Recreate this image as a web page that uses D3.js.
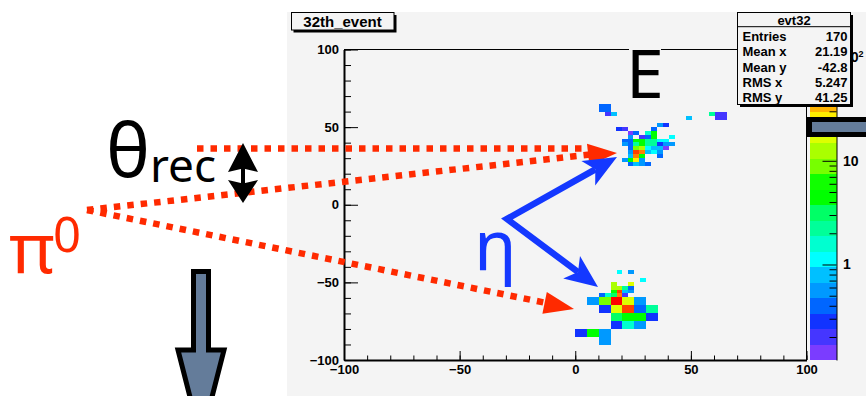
<!DOCTYPE html>
<html><head><meta charset="utf-8">
<script src="https://cdn.jsdelivr.net/npm/d3@7"></script>
<style>
html,body{margin:0;padding:0;background:#fff;overflow:hidden}
svg{display:block}
</style></head><body>
<svg id="c" width="866" height="396"></svg>
<script>
// Event 32: calorimeter energy deposits.
// Fine (crystal) cells: [x0, y0, content], lower-left corner in detector units.
const fineSize = 2.55;
const fineCells = [
  [35.35, 50.30, 0.56], [37.90, 50.30, 0.28],
  [17.50, 47.75, 0.28], [20.05, 47.75, 0.20], [32.80, 47.75, 0.40],
  [22.60, 45.20, 0.14], [25.15, 45.20, 0.40], [30.25, 45.20, 1.6], [32.80, 45.20, 4.5],
  [22.60, 42.65, 0.56], [27.70, 42.65, 0.20], [30.25, 42.65, 0.40], [32.80, 42.65, 4.5], [40.45, 42.65, 1.12],
  [20.05, 40.10, 0.40], [22.60, 40.10, 0.40], [25.15, 40.10, 4.5], [27.70, 40.10, 4.5], [30.25, 40.10, 2.2], [32.80, 40.10, 2.2], [35.35, 40.10, 1.12], [37.90, 40.10, 1.12],
  [20.05, 37.55, 0.56], [22.60, 37.55, 0.40], [25.15, 37.55, 2.2], [27.70, 37.55, 4.5], [30.25, 37.55, 2.2], [32.80, 37.55, 2.2], [35.35, 37.55, 0.28], [37.90, 37.55, 0.56], [40.45, 37.55, 0.56],
  [22.60, 35.00, 0.40], [25.15, 35.00, 8.9], [27.70, 35.00, 12.5], [30.25, 35.00, 1.12], [32.80, 35.00, 0.80], [35.35, 35.00, 0.80], [37.90, 35.00, 0.14],
  [22.60, 32.45, 0.56], [25.15, 32.45, 70], [27.70, 32.45, 50], [30.25, 32.45, 0.80], [32.80, 32.45, 1.12], [35.35, 32.45, 0.56],
  [22.60, 29.90, 0.80], [25.15, 29.90, 50], [27.70, 29.90, 4.5], [35.35, 29.90, 0.40],
  [20.05, 27.35, 0.56], [22.60, 27.35, 4.5], [25.15, 27.35, 25], [27.70, 27.35, 0.56],
  [22.60, 24.80, 0.40], [25.15, 24.80, 0.80], [27.70, 24.80, 0.56], [30.25, 24.80, 0.40],
  [12.75, 57.40, 0.20], [15.30, 57.40, 0.80], [47.80, 54.80, 0.80], [57.80, 57.40, 2.2],
  [17.85, -44.40, 1.12], [22.95, -44.40, 0.56],
  [28.05, -49.50, 1.12],
  [15.30, -52.05, 12.5], [22.95, -52.05, 17.7],
  [15.30, -54.60, 12.5], [17.85, -54.60, 12.5], [20.40, -54.60, 2.2], [22.95, -54.60, 0.40],
  [15.30, -57.15, 4.5], [17.85, -57.15, 70], [20.40, -57.15, 0.80], [22.95, -57.15, 0.56],
  [10.20, -59.70, 0.40], [12.75, -59.70, 1.6], [15.30, -59.70, 3.2], [17.85, -59.70, 50], [20.40, -59.70, 0.20]
];
// Coarse (outer) cells: [x0, y0, content]
const coarseSize = 5.1;
const coarseCells = [
  [10.20, 60.00, 0.40], [60.40, 54.80, 0.20],
  [5.10, -64.80, 0.56], [10.20, -64.80, 8.9], [15.30, -64.80, 99], [20.40, -64.80, 17.7], [25.50, -64.80, 0.56],
  [10.20, -69.90, 0.28], [15.30, -69.90, 17.7], [20.40, -69.90, 70], [25.50, -69.90, 0.40], [30.60, -69.90, 2.2],
  [15.30, -75.00, 3.2], [20.40, -75.00, 4.5], [25.50, -75.00, 4.5], [30.60, -75.00, 0.28],
  [15.30, -80.10, 0.28], [20.40, -80.10, 1.6], [25.50, -80.10, 0.56],
  [0.00, -85.20, 0.28], [5.10, -85.20, 4.5], [10.20, -85.20, 0.56],
  [10.20, -90.30, 0.56]
];
const axisRange = [-100, 100];
const axisTicks = [-100, -50, 0, 50, 100];
const zRange = [0.12, 117];
const zTicks = [1, 10, 100];
const zMinorTicks = [0.2,0.3,0.4,0.5,0.6,0.7,0.8,0.9,2,3,4,5,6,7,8,9,20,30,40,50,60,70,80,90];
const palette = ["#7b3cff","#4536ff","#1133ff","#0066ff","#0099ff","#00c0ff","#00ffff","#00ffd0",
  "#00ff99","#00ff66","#00ff00","#11ff00","#77ff00","#aaff00","#ddff00","#ffee00",
  "#ffb400","#ff8000","#ff4000","#ff0000"];
const histTitle = "32th_event";
const statName = "evt32";
const statLabels = ["Entries", "Mean x", "Mean y", "RMS x", "RMS y"];
const statValues = ["170", "21.19", "-42.8", "5.247", "41.25"];

const svg = d3.select("#c");
const padBg = "#f4f4f4";
const axisFont = "'Liberation Sans', Arial, Helvetica, sans-serif";
const slideFont = "'Noto Sans', 'DejaVu Sans', sans-serif";

// pad
svg.append("rect").attr("x", 287).attr("y", 12).attr("width", 579).attr("height", 384).attr("fill", padBg);

const x = d3.scaleLinear().domain(axisRange).range([344, 806.5]);
const y = d3.scaleLinear().domain(axisRange).range([360, 49.5]);
const color = d3.scaleQuantize().domain(zRange.map(Math.log10)).range(palette);

// histogram cells
function drawCells(cells, size) {
  svg.append("g").attr("shape-rendering", "crispEdges")
    .selectAll("rect").data(cells).join("rect")
    .attr("x", d => x(d[0]))
    .attr("y", d => y(d[1] + size))
    .attr("width", d => x(d[0] + size) - x(d[0]))
    .attr("height", d => y(d[1]) - y(d[1] + size))
    .attr("fill", d => color(Math.log10(d[2])));
}
drawCells(coarseCells, coarseSize);
drawCells(fineCells, fineSize);

// frame top / right
svg.append("path")
  .attr("d", `M${x(-100)},${y(100)}H${x(100)}V${y(-100)}`)
  .attr("fill", "none").attr("stroke", "#000").attr("stroke-width", 1);

const minor = d3.range(-100, 101, 10);
function styleAxis(g, size) {
  g.selectAll("text").attr("font-family", axisFont).attr("font-weight", "bold")
    .attr("font-size", size).attr("fill", "#000");
  g.selectAll("line").attr("stroke", "#000");
}
// x axis
const gx = svg.append("g").attr("transform", `translate(0,${y(-100)})`);
gx.call(d3.axisBottom(x).tickValues(minor).tickSize(-4.5).tickFormat("").tickSizeOuter(0))
  .call(g => g.select(".domain").remove());
const gxM = svg.append("g").attr("transform", `translate(0,${y(-100)})`)
  .call(d3.axisBottom(x).tickValues(axisTicks).tickSize(-9).tickPadding(5).tickSizeOuter(0));
gxM.select(".domain").attr("stroke-width", 2);
styleAxis(gxM, 13);
// y axis
const gy = svg.append("g").attr("transform", `translate(${x(-100)},0)`);
gy.call(d3.axisLeft(y).tickValues(minor).tickSize(-7).tickFormat("").tickSizeOuter(0))
  .call(g => g.select(".domain").remove());
const gyM = svg.append("g").attr("transform", `translate(${x(-100)},0)`)
  .call(d3.axisLeft(y).tickValues(axisTicks).tickSize(-14).tickPadding(5).tickSizeOuter(0));
gyM.select(".domain").attr("stroke-width", 2);
styleAxis(gyM, 13);

// colour scale bar
const z = d3.scaleLog().domain(zRange).range([360, 50]);
const barX = 810, barR = 836.5;
svg.append("g").attr("shape-rendering", "crispEdges")
  .selectAll("rect").data(palette).join("rect")
  .attr("x", barX).attr("width", barR - barX)
  .attr("y", c => z(Math.pow(10, color.invertExtent(c)[1])))
  .attr("height", c => { const e = color.invertExtent(c); return z(Math.pow(10, e[0])) - z(Math.pow(10, e[1])); })
  .attr("fill", c => c);
const gz = svg.append("g").attr("transform", `translate(${barR},0)`);
gz.call(d3.axisRight(z).tickValues(zMinorTicks).tickSize(-7).tickFormat("").tickSizeOuter(0))
  .call(g => g.select(".domain").remove());
const gzM = svg.append("g").attr("transform", `translate(${barR},0)`)
  .call(d3.axisRight(z).tickValues(zTicks).tickSize(-14).tickPadding(6.5).tickSizeOuter(0));
styleAxis(gzM, 14);
gzM.selectAll("text").each(function(d) {
  if (d >= 100) {
    const t = d3.select(this).text("");
    t.append("tspan").text("10");
    t.append("tspan").attr("font-size", 9).attr("dy", "-0.6em").text(String(Math.round(Math.log10(d))));
  }
});

// statistics box
const sb = svg.append("g");
sb.append("rect").attr("x", 740).attr("y", 15).attr("width", 113).attr("height", 92).attr("fill", "#000");
sb.append("rect").attr("x", 737.5).attr("y", 12.5).attr("width", 113).attr("height", 92)
  .attr("fill", padBg).attr("stroke", "#000").attr("stroke-width", 1);
sb.append("line").attr("x1", 737.5).attr("x2", 850.5).attr("y1", 26.7).attr("y2", 26.7).attr("stroke", "#000");
sb.append("text").attr("x", 794).attr("y", 25).attr("text-anchor", "middle")
  .attr("font-family", axisFont).attr("font-weight", "bold").attr("font-size", 13).text(statName);
sb.selectAll("text.l").data(statLabels).join("text").attr("class", "l")
  .attr("x", 742.5).attr("y", (d, i) => 40.7 + i * 15.4)
  .attr("font-family", axisFont).attr("font-weight", "bold").attr("font-size", 13).text(d => d);
sb.selectAll("text.v").data(statValues).join("text").attr("class", "v")
  .attr("x", 847.5).attr("y", (d, i) => 40.7 + i * 15.4).attr("text-anchor", "end")
  .attr("font-family", axisFont).attr("font-weight", "bold").attr("font-size", 13).text(d => d);

// title box
svg.append("rect").attr("x", 293.5).attr("y", 15).attr("width", 103).attr("height", 17.5).attr("fill", "#000");
svg.append("rect").attr("x", 291.5).attr("y", 12.5).attr("width", 102.5).attr("height", 17.5)
  .attr("fill", padBg).attr("stroke", "#000").attr("stroke-width", 1);
svg.append("text").attr("x", 342.5).attr("y", 26.5).attr("text-anchor", "middle")
  .attr("font-family", axisFont).attr("font-weight", "bold").attr("font-size", 15).text(histTitle);

// "E" label on its own backing box
svg.append("rect").attr("x", 629).attr("y", 45).attr("width", 32).attr("height", 54).attr("fill", padBg);
svg.append("text").attr("x", 645).attr("y", 97.5).attr("text-anchor", "middle")
  .attr("font-family", slideFont).attr("font-size", 68).attr("fill", "#000").text("E");

// red dotted photon directions
const red = "#ff2a00";
const dotted = [
  [[197, 148.5], [588, 148.5]],
  [[87, 210], [590, 154.6]],
  [[87, 210], [546, 302.9]]
];
svg.append("g").selectAll("line").data(dotted).join("line")
  .attr("x1", d => d[0][0]).attr("y1", d => d[0][1]).attr("x2", d => d[1][0]).attr("y2", d => d[1][1])
  .attr("stroke", red).attr("stroke-width", 6.5).attr("stroke-dasharray", "6.5 7");
svg.append("path").attr("d", "M617,153L587,143.8L589.4,165.6Z").attr("fill", red);
svg.append("path").attr("d", "M574,309L546.8,292.1L542.4,313.7Z").attr("fill", red);

// blue arrows to the two clusters
const blue = "#1438ff";
svg.append("path").attr("d", "M595.3,169.3L507,219L578,272")
  .attr("fill", "none").attr("stroke", blue).attr("stroke-width", 6.5).attr("stroke-linejoin", "miter");
svg.append("path").attr("d", "M617,157L581.4,161L595.3,169.3L595.2,185.4Z").attr("fill", blue);
svg.append("path").attr("d", "M598,287L580,256L578,272L563.2,278.4Z").attr("fill", blue);

// labels
svg.append("text").attr("x", 474).attr("y", 269.5).attr("font-family", slideFont)
  .attr("font-size", 70).attr("fill", blue).text("η");
svg.append("text").attr("x", 106).attr("y", 176.5).attr("font-family", slideFont)
  .attr("font-size", 74).attr("fill", "#000").text("θ");
svg.append("text").attr("x", 150).attr("y", 182).attr("font-family", slideFont)
  .attr("font-size", 46).attr("fill", "#000").text("rec");
svg.append("text").attr("x", 9).attr("y", 273).attr("font-family", slideFont)
  .attr("font-size", 70).attr("fill", red).text("π");
svg.append("text").attr("x", 53).attr("y", 252).attr("font-family", slideFont)
  .attr("font-size", 49).attr("fill", red).text("0");

// opening-angle double arrow
svg.append("path").attr("d", "M243,143L258,172L243,168.5L228,172Z").attr("fill", "#000");
svg.append("path").attr("d", "M243,203L228,180L243,183.5L258,180Z").attr("fill", "#000");
svg.append("rect").attr("x", 241).attr("y", 167).attr("width", 4).attr("height", 18).attr("fill", "#000");

// grey block arrows
const steel = "#647c9a";
svg.append("path").attr("d", "M193.5,271.5H208.5V350H224L201,440L178,350H193.5Z")
  .attr("fill", steel).attr("stroke", "#000").attr("stroke-width", 5).attr("stroke-linejoin", "miter");
svg.append("rect").attr("x", 809.5).attr("y", 119.5).attr("width", 70).attr("height", 15)
  .attr("fill", steel).attr("stroke", "#000").attr("stroke-width", 5);
</script>
</body></html>
